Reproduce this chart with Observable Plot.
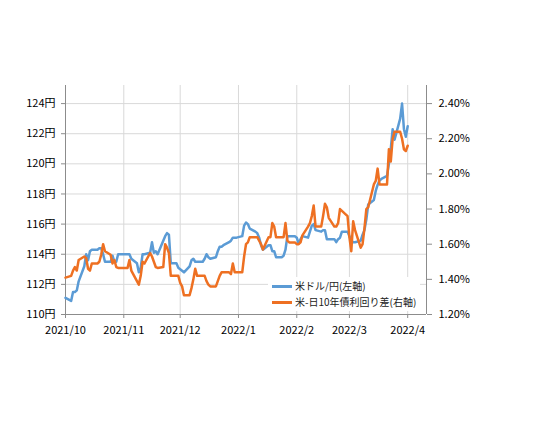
<!DOCTYPE html>
<html><head><meta charset="utf-8">
<script src="https://cdn.jsdelivr.net/npm/d3@7"></script>
<script src="https://cdn.jsdelivr.net/npm/@observablehq/plot@0.6"></script>
<style>
body{margin:0;background:#fff;}
#wrap{position:relative;width:540px;height:432px;font-family:"Noto Sans CJK JP","Noto Sans",sans-serif;}
.lg{position:absolute;font-size:10px;color:#222;line-height:12px;white-space:nowrap;}
.sw{position:absolute;height:3px;width:20px;}
#lgbox{position:absolute;left:268px;top:277px;width:152px;height:34px;background:#fff;}
</style></head><body><div id="wrap"></div>
<script>
const dates = ["2021-10-01","2021-10-04","2021-10-05","2021-10-06","2021-10-07","2021-10-08","2021-10-11","2021-10-12","2021-10-13","2021-10-14","2021-10-15","2021-10-18","2021-10-19","2021-10-20","2021-10-21","2021-10-22","2021-10-25","2021-10-26","2021-10-27","2021-10-28","2021-10-29",
"2021-11-01","2021-11-02","2021-11-03","2021-11-04","2021-11-05","2021-11-08","2021-11-09","2021-11-10","2021-11-11","2021-11-12","2021-11-15","2021-11-16","2021-11-17","2021-11-18","2021-11-19","2021-11-22","2021-11-23","2021-11-24","2021-11-25","2021-11-26","2021-11-29","2021-11-30",
"2021-12-01","2021-12-02","2021-12-03","2021-12-06","2021-12-07","2021-12-08","2021-12-09","2021-12-10","2021-12-13","2021-12-14","2021-12-15","2021-12-16","2021-12-17","2021-12-20","2021-12-21","2021-12-22","2021-12-23","2021-12-24","2021-12-27","2021-12-28","2021-12-29","2021-12-30","2021-12-31",
"2022-01-03","2022-01-04","2022-01-05","2022-01-06","2022-01-07","2022-01-10","2022-01-11","2022-01-12","2022-01-13","2022-01-14","2022-01-17","2022-01-18","2022-01-19","2022-01-20","2022-01-21","2022-01-24","2022-01-25","2022-01-26","2022-01-27","2022-01-28","2022-01-31",
"2022-02-01","2022-02-02","2022-02-03","2022-02-04","2022-02-07","2022-02-08","2022-02-09","2022-02-10","2022-02-11","2022-02-14","2022-02-15","2022-02-16","2022-02-17","2022-02-18","2022-02-21","2022-02-22","2022-02-23","2022-02-24","2022-02-25","2022-02-28",
"2022-03-01","2022-03-02","2022-03-03","2022-03-04","2022-03-07","2022-03-08","2022-03-09","2022-03-10","2022-03-11","2022-03-14","2022-03-15","2022-03-16","2022-03-17","2022-03-18","2022-03-21","2022-03-22","2022-03-23","2022-03-24","2022-03-25","2022-03-28","2022-03-29","2022-03-30","2022-03-31","2022-04-01"];

const usdjpy = [111.1,110.9,111.5,111.5,111.6,112.2,113.2,114.0,113.6,114.2,114.3,114.3,114.4,114.4,114.0,113.5,113.5,113.9,113.5,113.5,114.0,
114.0,114.0,114.0,114.0,113.7,113.4,112.8,113.1,114.0,114.0,114.1,114.8,114.1,114.2,114.0,114.9,115.2,115.4,115.3,113.4,113.4,113.1,
113.0,112.9,112.8,113.2,113.6,113.7,113.5,113.5,113.5,113.7,114.0,113.8,113.7,113.8,114.2,114.5,114.5,114.6,114.8,114.9,115.1,115.1,115.1,
115.2,115.9,116.1,116.0,115.7,115.5,115.4,115.1,114.6,114.3,114.6,114.6,114.2,114.2,113.8,113.8,113.9,114.3,115.2,115.2,115.2,
115.1,114.7,115.0,115.2,115.1,115.5,115.9,116.0,115.6,115.5,115.6,115.6,115.0,115.0,115.0,114.8,115.0,115.1,115.5,115.5,
115.2,114.9,114.8,114.8,114.9,115.3,115.6,116.3,117.3,117.6,118.2,118.6,118.9,119.0,119.2,120.0,121.0,122.3,121.6,123.0,124.0,122.3,121.8,122.5];

const spread = [1.41,1.42,1.45,1.47,1.45,1.51,1.53,1.52,1.46,1.45,1.49,1.49,1.50,1.54,1.60,1.56,1.54,1.49,1.51,1.47,1.465,
1.465,1.465,1.465,1.51,1.45,1.39,1.37,1.42,1.50,1.49,1.55,1.53,1.50,1.47,1.465,1.47,1.60,1.58,1.55,1.42,1.42,1.42,
1.38,1.36,1.31,1.31,1.35,1.40,1.46,1.42,1.42,1.42,1.39,1.37,1.36,1.36,1.39,1.42,1.44,1.44,1.44,1.43,1.49,1.44,1.44,
1.44,1.53,1.60,1.61,1.64,1.64,1.64,1.62,1.60,1.57,1.64,1.64,1.72,1.70,1.64,1.64,1.64,1.72,1.62,1.61,1.61,
1.60,1.60,1.61,1.65,1.70,1.72,1.76,1.82,1.70,1.70,1.76,1.83,1.81,1.75,1.70,1.70,1.72,1.80,1.79,1.76,
1.64,1.56,1.73,1.68,1.58,1.60,1.69,1.80,1.81,1.94,1.96,2.03,1.94,1.94,1.94,2.14,2.07,2.20,2.24,2.24,2.20,2.14,2.13,2.16];

const yenTicks = [110,112,114,116,118,120,122,124];
const yenLabels = ["110円","112円","114円","116円","118円","120円","122円","124円"];
const rightLabels = ["1.20%","1.40%","1.60%","1.80%","2.00%","2.20%","2.40%"];
const monthTicks = ["2021-10-01","2021-11-01","2021-12-01","2022-01-01","2022-02-01","2022-03-01","2022-04-01"];
const monthLabels = ["2021/10","2021/11","2021/12","2022/1","2022/2","2022/3","2022/4"];
const seriesNames = ["米ドル/円(左軸)","米-日10年債利回り差(右軸)"];
const colors = ["#5B9BD5","#EE7022"];

// right-axis (%) mapped onto the left (yen) scale: 1.20% ↔ 110円, 2.40% ↔ 124円
const pctToYen = p => 110 + (p - 1.2) * 14 / 1.2;
const rightTicks = rightLabels.map(s => pctToYen(parseFloat(s)));

const table = dates.map((d, i) => ({date: new Date(d), usd: usdjpy[i], spr: pctToYen(spread[i])}));
const monthDates = monthTicks.map(d => new Date(d));
const xDomain = [new Date("2021-10-01"), new Date("2022-04-11")];

const chart = Plot.plot({
  width: 540, height: 432,
  marginTop: 85, marginBottom: 118, marginLeft: 65, marginRight: 114,
  style: {fontFamily: '"Noto Sans CJK JP","Noto Sans",sans-serif', fontSize: "11px", color: "#000", background: "#fff"},
  x: {type: "utc", domain: xDomain},
  y: {domain: [110, 125.2]},
  marks: [
    Plot.gridY(yenTicks, {stroke: "#d9d9d9", strokeOpacity: 1}),
    Plot.gridX(monthDates, {stroke: "#d9d9d9", strokeOpacity: 1}),
    Plot.axisY(yenTicks, {anchor: "left", tickFormat: d => yenLabels[yenTicks.indexOf(d)], tickSize: 4, tickPadding: 6, stroke: "#8c8c8c", fill: "#000", label: null}),
    Plot.axisY(rightTicks, {anchor: "right", tickFormat: d => rightLabels[rightTicks.indexOf(d)], tickSize: 5, tickPadding: 7, stroke: "#8c8c8c", fill: "#000", label: null}),
    Plot.axisX(monthDates, {tickFormat: d => monthLabels[monthDates.findIndex(m => +m === +d)], tickSize: 4, tickPadding: 8, stroke: "#8c8c8c", fill: "#000", label: null}),
    Plot.ruleX([xDomain[0], xDomain[1]], {stroke: "#8c8c8c"}),
    Plot.ruleY([110], {stroke: "#8c8c8c"}),
    Plot.lineY(table, {x: "date", y: "usd", stroke: colors[0], strokeWidth: 2.5}),
    Plot.lineY(table, {x: "date", y: "spr", stroke: colors[1], strokeWidth: 2.5})
  ]
});
const wrap = document.getElementById("wrap");
wrap.appendChild(chart);
// legend inside plot area
const box = document.createElement("div"); box.id = "lgbox"; wrap.appendChild(box);
seriesNames.forEach((name, i) => {
  const sw = document.createElement("div"); sw.className = "sw";
  sw.style.left = "272px"; sw.style.top = (285 + i*16) + "px"; sw.style.background = colors[i];
  wrap.appendChild(sw);
  const t = document.createElement("div"); t.className = "lg";
  t.style.left = "295px"; t.style.top = (280 + i*16) + "px"; t.textContent = name;
  wrap.appendChild(t);
});
</script></body></html>
